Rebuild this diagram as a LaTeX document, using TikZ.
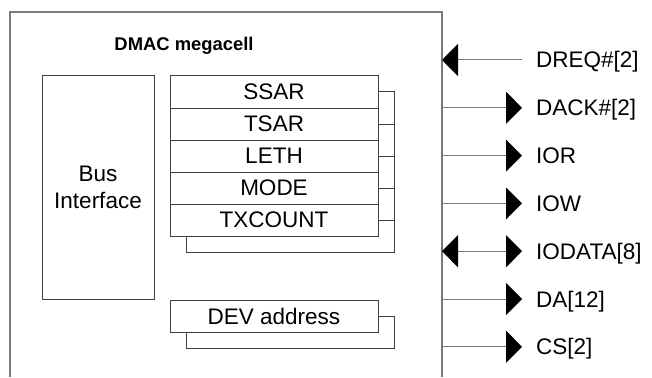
\documentclass[tikz,border=0pt]{standalone}
\usepackage{fontspec}
\setmainfont{Liberation Sans}
\usetikzlibrary{arrows.meta}
\usetikzlibrary{shadows}
\usetikzlibrary{positioning}
\definecolor{framegray}{HTML}{7A7A7A}
\definecolor{boxgray}{HTML}{404040}
\tikzset{
	regbox/.style={draw=boxgray,line width=1pt,fill=white,minimum width=208pt,minimum height=32pt,inner sep=0pt,
		copy shadow={shadow xshift=16pt,shadow yshift=-16pt,draw=boxgray,line width=1pt,fill=white}},
	siglabel/.style={anchor=base west,inner xsep=14pt,inner ysep=0pt},
	sigin/.style={draw=framegray,line width=1pt,{Triangle[length=16pt,width=32pt,black]}-},
	sigout/.style={draw=framegray,line width=1pt,-{Triangle[length=16pt,width=32pt,black]}},
	sigboth/.style={draw=framegray,line width=1pt,{Triangle[length=16pt,width=32pt,black]}-{Triangle[length=16pt,width=32pt,black]}},
}
\newcommand{\bigfont}{\fontsize{22.5}{27}\selectfont}
\begin{document}
\begin{tikzpicture}[x=1pt,y=-1pt,font=\bigfont]
\useasboundingbox (0,0) rectangle (652,377);
% megacell frame, open at the bottom
\draw[framegray,line width=1.6pt] (10,377) -- (10,12) -- (442,12) -- (442,377);
\node[font=\fontsize{18.4}{22}\selectfont\bfseries] (title) at (184,46) {DMAC megacell};
\node[draw=boxgray,line width=1pt,minimum width=112pt,minimum height=223pt,align=center,inner sep=0pt] (bus) at (98,187.5) {Bus\\Interface};
% register stack
\foreach \r [count=\i from 0] in {SSAR,TSAR,LETH,MODE,TXCOUNT} {
	\node[regbox] (r\i) at (274,92+32*\i) {\r};
}
\node[regbox] (dev) at (274,316) {DEV address};
% signals on the right edge
\foreach \nm/\txt/\st [count=\i from 0] in {dreq/{DREQ\#[2]}/sigin,dack/{DACK\#[2]}/sigout,ior/IOR/sigout,iow/IOW/sigout,iodata/{IODATA[8]}/sigboth,da/{DA[12]}/sigout,cs/{CS[2]}/sigout} {
	\coordinate (p\nm) at (442,60+47.8*\i);
	\node[siglabel] (\nm) at (522,68+47.8*\i) {\txt};
	\draw[\st] (p\nm) -- (p\nm -| \nm.west);
}
\end{tikzpicture}
\end{document}
